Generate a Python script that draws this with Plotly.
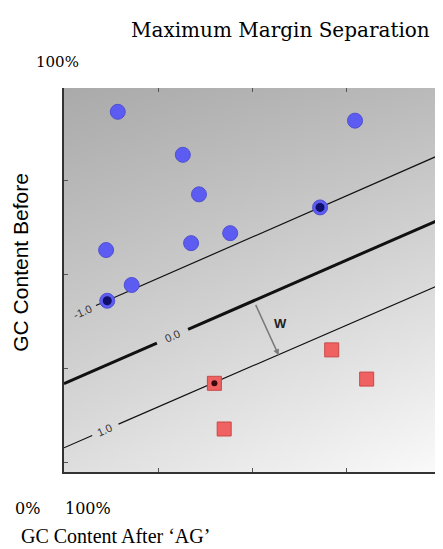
import plotly.graph_objects as go

# ---- data (normalised 0..1 plot coordinates) ----
blue_x = [0.143, 0.774, 0.316, 0.359, 0.681, 0.442, 0.338, 0.112, 0.180, 0.115]
blue_y = [0.938, 0.915, 0.826, 0.723, 0.689, 0.622, 0.596, 0.578, 0.487, 0.446]
blue_sv = [False, False, False, False, True, False, False, False, False, True]

red_x = [0.712, 0.805, 0.400, 0.426]
red_y = [0.318, 0.242, 0.231, 0.112]
red_sv = [False, False, True, False]

# margin lines: level, intercept, slope, gap (x-start, x-end) for inline label
line_levels = ["-1.0", "0.0", "1.0"]
line_b = [0.397, 0.230, 0.063]
line_m = [0.429, 0.428, 0.425]
line_gap = [(0.0, 0.085), (0.247, 0.330), (0.075, 0.145)]
label_x = [0.048, 0.288, 0.108]

x_ticks = [0.25, 0.5, 0.75]
y_ticks = [0.026, 0.27, 0.515, 0.76]

bg_z = [[222, 250], [170, 186]]  # grey levels: rows bottom->top, cols left->right

fig = go.Figure()

fig.add_trace(go.Heatmap(x=[0, 1], y=[0, 1], z=bg_z, zsmooth="best",
                         colorscale=[[0, "rgb(0,0,0)"], [1, "rgb(255,255,255)"]],
                         zmin=0, zmax=255, showscale=False, hoverinfo="skip"))

for lev, b, m, gap, lx in zip(line_levels, line_b, line_m, line_gap, label_x):
    w = 3 if lev == "0.0" else 1.2
    segs = [(0.0, gap[0]), (gap[1], 1.0)]
    for x0, x1 in segs:
        if x1 - x0 <= 0:
            continue
        fig.add_trace(go.Scatter(x=[x0, x1], y=[b + m * x0, b + m * x1], mode="lines",
                                 line=dict(color="#111111", width=w), hoverinfo="skip",
                                 showlegend=False))
    fig.add_annotation(x=lx, y=b + m * lx, text=lev, showarrow=False, textangle=-24,
                       xanchor="center", yanchor="middle",
                       font=dict(family="Liberation Sans", size=11, color="#333333"))

fig.add_trace(go.Scatter(x=blue_x, y=blue_y, mode="markers",
                         marker=dict(symbol="circle", size=15, color="#5c5cf2",
                                     line=dict(color="#5050d0", width=1)),
                         showlegend=False, hoverinfo="skip"))
fig.add_trace(go.Scatter(x=red_x, y=red_y, mode="markers",
                         marker=dict(symbol="square", size=14, color="#f06262",
                                     line=dict(color="#c84848", width=1)),
                         showlegend=False, hoverinfo="skip"))
fig.add_trace(go.Scatter(x=[x for x, s in zip(blue_x, blue_sv) if s],
                         y=[y for y, s in zip(blue_y, blue_sv) if s], mode="markers",
                         marker=dict(symbol="circle", size=9, color="#10106a"),
                         showlegend=False, hoverinfo="skip"))
fig.add_trace(go.Scatter(x=[x for x, s in zip(red_x, red_sv) if s],
                         y=[y for y, s in zip(red_y, red_sv) if s], mode="markers",
                         marker=dict(symbol="circle", size=6, color="#3a0808"),
                         showlegend=False, hoverinfo="skip"))

# W arrow (from 0.0 line to 1.0 line)
fig.add_annotation(x=0.571, y=0.304, ax=0.508, ay=0.439, xref="x", yref="y",
                   axref="x", ayref="y", text="", showarrow=True, arrowhead=2,
                   arrowsize=0.8, arrowwidth=1.5, arrowcolor="#7a7a7a")
fig.add_annotation(x=0.577, y=0.388, text="<b>W</b>", showarrow=False,
                   xanchor="center", yanchor="middle",
                   font=dict(family="Liberation Sans", size=13, color="#222222"))

serif = "DejaVu Serif"


def txt(x, y, s, family, size, angle=0):
    fig.add_annotation(xref="paper", yref="paper", x=x, y=y, text=s, showarrow=False,
                       xanchor="center", yanchor="middle", textangle=angle,
                       font=dict(family=family, size=size, color="black"))


txt(0.577, 1.151, "Maximum Margin Separation", serif, 20)
txt(-0.016, 1.068, "100%", serif, 15)
txt(-0.096, -0.094, "0%", serif, 16)
txt(0.064, -0.094, "100%", serif, 16)
txt(0.138, -0.166, "GC Content After \u2018AG\u2019", "Liberation Serif", 20)
txt(-0.115, 0.547, "GC Content Before", "Liberation Sans", 21, -90)

# page body has an 8px default margin, so the figure is offset by 8px
fig.update_layout(
    width=435, height=541, margin=dict(l=56, r=3, t=80, b=77, autoexpand=False),
    paper_bgcolor="white", plot_bgcolor="white",
    xaxis=dict(range=[0, 1], showgrid=False, zeroline=False, showline=True, linecolor="#333333",
               linewidth=2, ticks="inside", ticklen=4, tickcolor="#555555", tickvals=x_ticks,
               showticklabels=False),
    yaxis=dict(range=[0, 1], showgrid=False, zeroline=False, showline=True, linecolor="#333333",
               linewidth=2, ticks="inside", ticklen=4, tickcolor="#555555", tickvals=y_ticks,
               showticklabels=False),
    xaxis2=dict(range=[0, 1], overlaying="x", side="top", showgrid=False, zeroline=False,
                showline=False, ticks="inside", ticklen=4, tickcolor="#555555", tickvals=x_ticks,
                showticklabels=False),
    yaxis2=dict(range=[0, 1], overlaying="y", side="right", showgrid=False, zeroline=False,
                showline=False, ticks="inside", ticklen=4, tickcolor="#555555", tickvals=y_ticks,
                showticklabels=False),
)
fig.add_trace(go.Scatter(x=[None], y=[None], xaxis="x2", yaxis="y2", showlegend=False,
                         hoverinfo="skip"))

fig.write_html("out.html")
